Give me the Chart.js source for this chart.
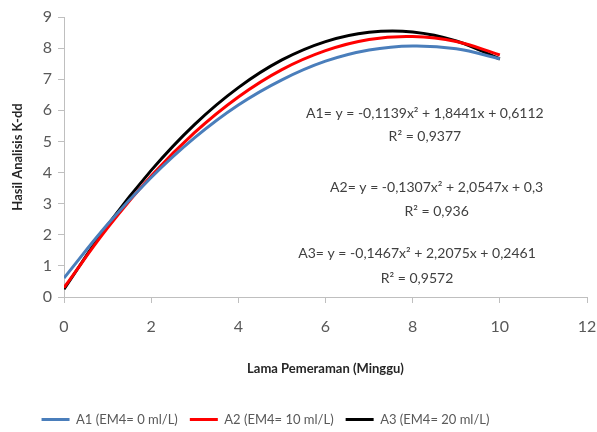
<!DOCTYPE html>
<html>
<head>
<meta charset="utf-8">
<script src="https://cdn.jsdelivr.net/npm/chart.js@4"></script>
<style>
  html, body { margin: 0; padding: 0; background: #fff; }
  #wrap { width: 597px; height: 432px; }
</style>
</head>
<body>
<div id="wrap"><canvas id="chart" width="597" height="432"></canvas></div>
<script>
const weeks = [0, 1, 2, 3, 4, 5, 6, 7, 8, 9, 10];
const a1 = [0.61, 2.34, 3.84, 5.12, 6.17, 6.98, 7.58, 7.94, 8.07, 7.98, 7.66];
const a2 = [0.30, 2.22, 3.89, 5.29, 6.43, 7.31, 7.92, 8.28, 8.37, 8.21, 7.78];
const a3 = [0.25, 2.31, 4.07, 5.55, 6.73, 7.62, 8.21, 8.51, 8.52, 8.23, 7.65];
const seriesNames = ['A1 (EM4= 0 ml/L)', 'A2 (EM4= 10 ml/L)', 'A3 (EM4= 20 ml/L)'];
const seriesColors = ['#4a7ebb', '#ff0000', '#000000'];

// trendline labels, anchored in data units
const equations = [
    { text: 'A1= y = -0,1139x² + 1,8441x + 0,6112', x: 8.28, y: 5.9 },
    { text: 'R² = 0,9377', x: 8.28, y: 5.16 },
    { text: 'A2= y = -0,1307x² + 2,0547x + 0,3', x: 8.55, y: 3.52 },
    { text: 'R² = 0,936', x: 8.55, y: 2.74 },
    { text: 'A3= y = -0,1467x² + 2,2075x + 0,2461', x: 8.1, y: 1.39 },
    { text: 'R² = 0,9572', x: 8.1, y: 0.61 }
];

const FONT = 'Lato, "Open Sans", sans-serif';
const axisGray = '#bfbfbf';
const textGray = '#595959';

function toPoints(values) {
    return values.map((v, i) => ({ x: weeks[i], y: v }));
}

const equationPlugin = {
    id: 'equations',
    afterLayout(chart) {
        // legend sits a bit left of centre in the original
        if (chart.legend) {
            chart.legend.left -= 33;
            chart.legend.right -= 33;
        }
    },
    afterDatasetsDraw(chart) {
        const { ctx, scales } = chart;
        ctx.save();
        ctx.font = '14px ' + FONT;
        ctx.fillStyle = '#404040';
        ctx.textAlign = 'center';
        ctx.textBaseline = 'middle';
        equations.forEach(eq => {
            ctx.fillText(eq.text, scales.x.getPixelForValue(eq.x), scales.y.getPixelForValue(eq.y));
        });
        ctx.restore();
    }
};

new Chart(document.getElementById('chart'), {
    type: 'line',
    data: {
        datasets: [a1, a2, a3].map((vals, i) => ({
            label: seriesNames[i],
            data: toPoints(vals),
            borderColor: seriesColors[i],
            backgroundColor: seriesColors[i],
            borderWidth: 3,
            pointRadius: 0,
            tension: 0.4,
            fill: false
        }))
    },
    options: {
        responsive: false,
        animation: false,
        layout: { padding: { top: 17, right: 0, bottom: -4, left: 0 } },
        plugins: {
            tooltip: { enabled: false },
            legend: {
                position: 'bottom',
                labels: {
                    boxWidth: 28,
                    boxHeight: 3,
                    padding: 12,
                    color: textGray,
                    font: { family: FONT, size: 13 },
                    generateLabels(chart) {
                        return chart.data.datasets.map((ds, i) => ({
                            text: ds.label,
                            fillStyle: ds.borderColor,
                            strokeStyle: ds.borderColor,
                            lineWidth: 0,
                            fontColor: textGray,
                            datasetIndex: i
                        }));
                    }
                }
            }
        },
        scales: {
            x: {
                type: 'linear',
                min: 0,
                max: 12,
                ticks: { stepSize: 2, color: textGray, padding: 14, font: { family: FONT, size: 16 } },
                grid: { drawOnChartArea: false, tickLength: 6, color: axisGray },
                border: { color: axisGray },
                title: {
                    display: true,
                    text: 'Lama Pemeraman (Minggu)',
                    color: '#262626',
                    font: { family: FONT, size: 13, weight: 'bold' },
                    padding: { top: 0, bottom: 24 }
                },
                afterFit(scale) {
                    scale.height = 104;
                    scale.paddingRight = 10;
                }
            },
            y: {
                min: 0,
                max: 9,
                ticks: { stepSize: 1, color: textGray, padding: 6, font: { family: FONT, size: 16 } },
                grid: { drawOnChartArea: false, tickLength: 6, color: axisGray },
                border: { color: axisGray },
                title: {
                    display: true,
                    text: 'Hasil Analisis K-dd',
                    color: '#262626',
                    font: { family: FONT, size: 13, weight: 'bold' },
                    padding: { top: 10, bottom: 0 }
                },
                afterFit(scale) { scale.width = 64; }
            }
        }
    },
    plugins: [equationPlugin]
});
</script>
</body>
</html>
